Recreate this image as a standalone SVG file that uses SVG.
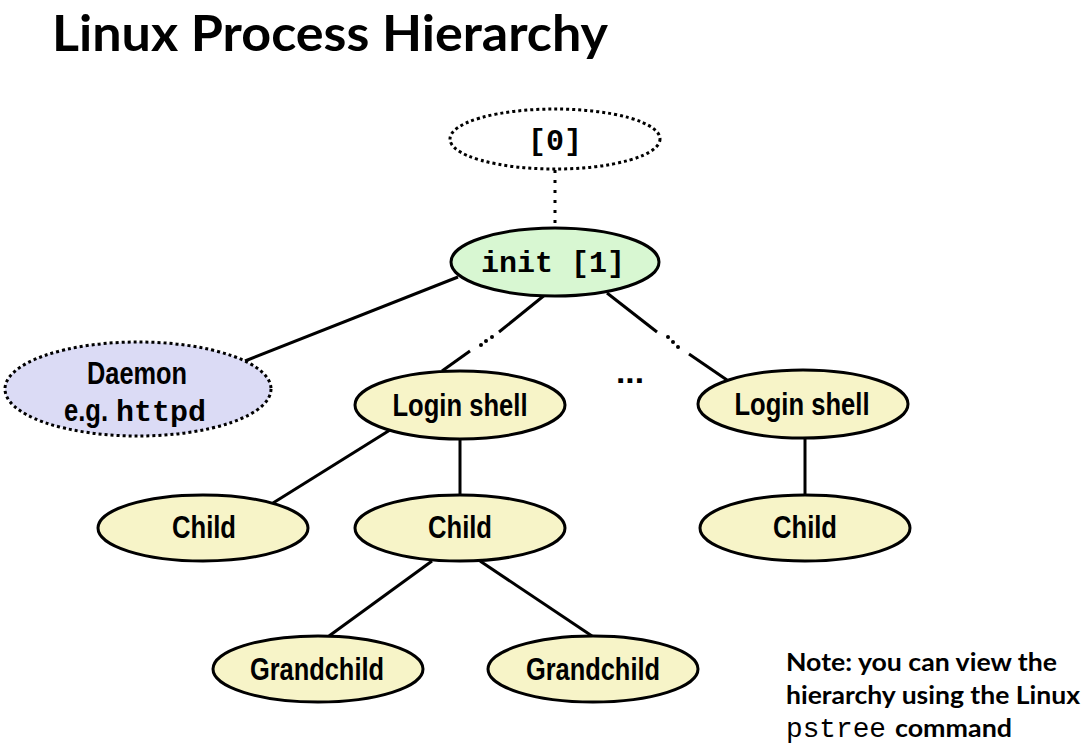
<svg xmlns="http://www.w3.org/2000/svg" width="1092" height="752" viewBox="0 0 1092 752">
<style>
.n{stroke:#000;stroke-width:3}
.y{fill:#f7f4c8}
.g{fill:#d8f7d2}
.p{fill:#dbdbf5}
.w{fill:#fff}
.dot{stroke-dasharray:3 3}
.s{font-family:"Liberation Sans",Arial,sans-serif;font-weight:bold;font-size:31px;text-anchor:middle;fill:#000}
.m{font-family:"Liberation Mono","Courier New",monospace;font-weight:bold;font-size:30px;fill:#000}
.c{stroke:#000;stroke-width:3;fill:none}
.t{font-family:Lato,"Open Sans",sans-serif;font-weight:bold;fill:#000}
</style>
<rect width="1092" height="752" fill="#fff"/>
<text class="t" x="52" y="51" font-size="50" textLength="556" lengthAdjust="spacingAndGlyphs">Linux Process Hierarchy</text>
<g id="connectors">
<line class="c" x1="555" y1="170" x2="555" y2="228" stroke-dasharray="3 7"/>
<line class="c" x1="458" y1="277" x2="245" y2="361"/>
<line class="c" x1="546" y1="294" x2="499" y2="332"/>
<circle cx="492" cy="337" r="2"/><circle cx="486" cy="341" r="2"/><circle cx="481" cy="345" r="2"/>
<line class="c" x1="470" y1="351" x2="442" y2="371"/>
<line class="c" x1="607" y1="293" x2="657" y2="332"/>
<circle cx="668" cy="337" r="2"/><circle cx="673" cy="342" r="2"/><circle cx="678" cy="347" r="2"/>
<line class="c" x1="689" y1="354" x2="727" y2="380"/>
<line class="c" x1="390" y1="430" x2="273" y2="503"/>
<line class="c" x1="460" y1="438" x2="460" y2="496"/>
<line class="c" x1="432" y1="561" x2="329" y2="636"/>
<line class="c" x1="480" y1="561" x2="592" y2="636"/>
<line class="c" x1="805" y1="436" x2="805" y2="496"/>
</g>
<text class="s" x="630" y="383" font-size="40" textLength="28" lengthAdjust="spacingAndGlyphs">...</text>
<g id="n0"><ellipse class="n w dot" cx="555" cy="139" rx="105" ry="30"/><text class="m" x="555" y="150" text-anchor="middle">[0]</text></g>
<g id="init"><ellipse class="n g" cx="555" cy="262" rx="104" ry="34"/><text class="m" x="553" y="272" text-anchor="middle">init [1]</text></g>
<g id="daemon"><ellipse class="n p dot" cx="138" cy="389" rx="133" ry="47"/><text class="s" x="137" y="384" textLength="100" lengthAdjust="spacingAndGlyphs">Daemon</text><text class="s" x="86" y="421" textLength="44" lengthAdjust="spacingAndGlyphs">e.g.</text><text class="m" x="116" y="421">httpd</text></g>
<g id="login1"><ellipse class="n y" cx="460" cy="405" rx="105" ry="34"/><text class="s" x="460" y="416" textLength="135" lengthAdjust="spacingAndGlyphs">Login shell</text></g>
<g id="login2"><ellipse class="n y" cx="803" cy="404" rx="105" ry="34"/><text class="s" x="802" y="415" textLength="135" lengthAdjust="spacingAndGlyphs">Login shell</text></g>
<g id="child1"><ellipse class="n y" cx="203" cy="528" rx="105" ry="33"/><text class="s" x="204" y="538" textLength="64" lengthAdjust="spacingAndGlyphs">Child</text></g>
<g id="child2"><ellipse class="n y" cx="460" cy="528" rx="105" ry="33"/><text class="s" x="460" y="538" textLength="64" lengthAdjust="spacingAndGlyphs">Child</text></g>
<g id="child3"><ellipse class="n y" cx="805" cy="528" rx="105" ry="33"/><text class="s" x="805" y="538" textLength="64" lengthAdjust="spacingAndGlyphs">Child</text></g>
<g id="gc1"><ellipse class="n y" cx="318" cy="669" rx="105" ry="33"/><text class="s" x="317" y="680" textLength="134" lengthAdjust="spacingAndGlyphs">Grandchild</text></g>
<g id="gc2"><ellipse class="n y" cx="593" cy="669" rx="105" ry="33"/><text class="s" x="593" y="680" textLength="134" lengthAdjust="spacingAndGlyphs">Grandchild</text></g>
<g id="note">
<text class="t" x="786" y="671" font-size="25" textLength="271" lengthAdjust="spacingAndGlyphs">Note: you can view the</text>
<text class="t" x="786" y="704" font-size="25" textLength="294" lengthAdjust="spacingAndGlyphs">hierarchy using the Linux</text>
<text x="786" y="737" font-family="Liberation Mono,'Courier New',monospace" font-size="27" textLength="100" lengthAdjust="spacingAndGlyphs">pstree</text>
<text class="t" x="895" y="737" font-size="25" textLength="117" lengthAdjust="spacingAndGlyphs">command</text>
</g>
</svg>
